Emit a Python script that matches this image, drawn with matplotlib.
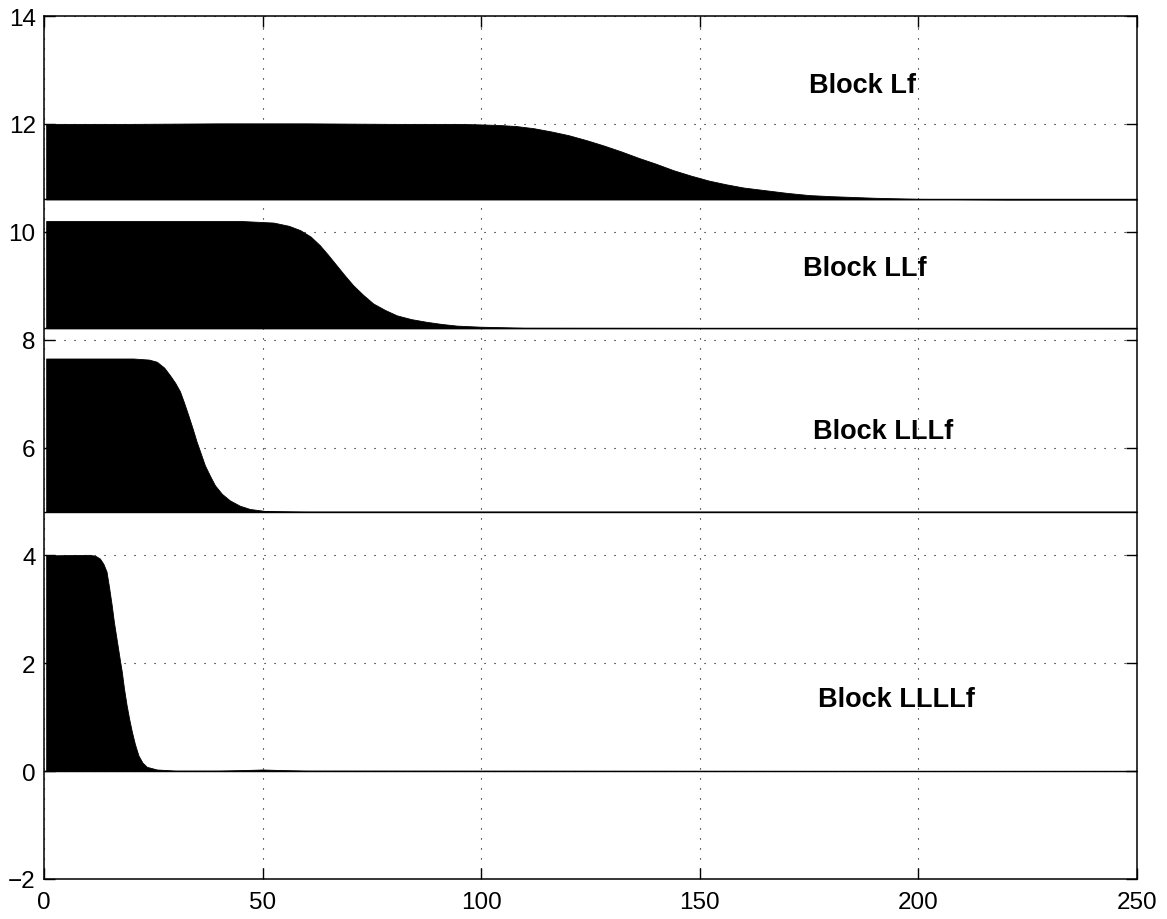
import matplotlib
matplotlib.use('Agg')
import matplotlib.pyplot as plt

plt.rcParams['font.family'] = ['Liberation Sans', 'DejaVu Sans']

# block labels and baselines
labels = ['Block Lf', 'Block LLf', 'Block LLLf', 'Block LLLLf']
bases = [10.6, 8.21, 4.81, 0.0]
label_x = [175, 173.5, 176, 177]
label_y = [12.72, 9.33, 6.31, 1.34]

# envelope (upper edge) of each block
x_lf = [0.5, 20, 40, 60, 80, 95, 100, 104, 108, 112, 116, 120, 124, 128,
        132, 136, 140, 144, 148, 152, 156, 160, 165, 170, 175, 180, 190,
        200, 220, 250]
y_lf = [12.0, 12.0, 12.01, 12.01, 12.0, 12.0, 11.99, 11.98, 11.96, 11.92,
        11.86, 11.79, 11.7, 11.6, 11.49, 11.37, 11.26, 11.14, 11.04, 10.95,
        10.88, 10.82, 10.77, 10.72, 10.68, 10.66, 10.63, 10.61, 10.6, 10.6]

x_llf = [0.5, 20, 40, 45, 52.5, 56, 58.6, 61, 63.1, 65, 66.9, 68.8, 70.7,
         73, 75.3, 78, 80.7, 84, 87.5, 91, 94.4, 99.7, 110, 250]
y_llf = [10.2, 10.2, 10.2, 10.2, 10.17, 10.11, 10.03, 9.91, 9.75, 9.57, 9.38,
         9.19, 9.01, 8.83, 8.67, 8.55, 8.45, 8.38, 8.33, 8.29, 8.26, 8.24,
         8.22, 8.21]

x_lllf = [0.5, 12.8, 20.4, 24, 25.8, 27.5, 28.8, 30, 31.1, 32, 33.0, 34, 34.9,
          35.9, 36.8, 38, 39.1, 40.7, 42.5, 44.8, 47.1, 50.9, 60, 250]
y_lllf = [7.65, 7.65, 7.65, 7.63, 7.59, 7.48, 7.34, 7.2, 7.04, 6.84, 6.6,
          6.35, 6.11, 5.88, 5.67, 5.47, 5.3, 5.14, 5.02, 4.92, 4.86, 4.82,
          4.81, 4.81]

x_llllf = [0.5, 10.5, 11.8, 12.8, 13.6, 14.3, 14.9, 15.5, 16.0, 16.6, 17.2,
           17.8, 18.3, 18.9, 19.5, 20.1, 20.8, 21.6, 22.5, 23.5, 25.8, 30, 40,
           46, 50, 54, 60, 250]
y_llllf = [4.0, 4.01, 3.99, 3.94, 3.84, 3.7, 3.4, 3.07, 2.76, 2.45, 2.14, 1.84,
           1.53, 1.22, 0.96, 0.73, 0.5, 0.29, 0.16, 0.08, 0.03, 0.01, 0.01,
           0.02, 0.03, 0.02, 0.01, 0.0]

envelopes = [(x_lf, y_lf), (x_llf, y_llf), (x_lllf, y_lllf), (x_llllf, y_llllf)]

fig = plt.figure(figsize=(11.67, 9.2), dpi=100)
ax = fig.add_axes([0.0377, 0.0435, 0.9366, 0.938])

for (xs, ys), base, lab, lx, ly in zip(envelopes, bases, labels, label_x, label_y):
    ax.fill_between(xs, base, ys, color='black', linewidth=0.6, zorder=3)
    ax.axhline(base, color='black', linewidth=1.0, zorder=3)
    ax.text(lx, ly, lab, fontsize=19.5, fontweight='bold', ha='left',
            va='center', zorder=4)

ax.set_xlim(0, 250)
ax.set_ylim(-2, 14)
ax.set_xticks(range(0, 251, 50))
ax.set_yticks(range(-2, 15, 2))
ax.grid(True, color='black', linestyle=(0, (1, 8)), linewidth=0.8)
ax.set_axisbelow(True)
ax.tick_params(direction='in', length=8, width=1, top=True, right=True,
               labelsize=17.5)
ax.tick_params(axis='x', pad=9)
ax.tick_params(axis='y', pad=6)
ax.set_yticklabels(['\u22122' if v < 0 else str(v) for v in range(-2, 15, 2)])
for s in ax.spines.values():
    s.set_linewidth(1.1)

fig.savefig('out.png', dpi=100)
